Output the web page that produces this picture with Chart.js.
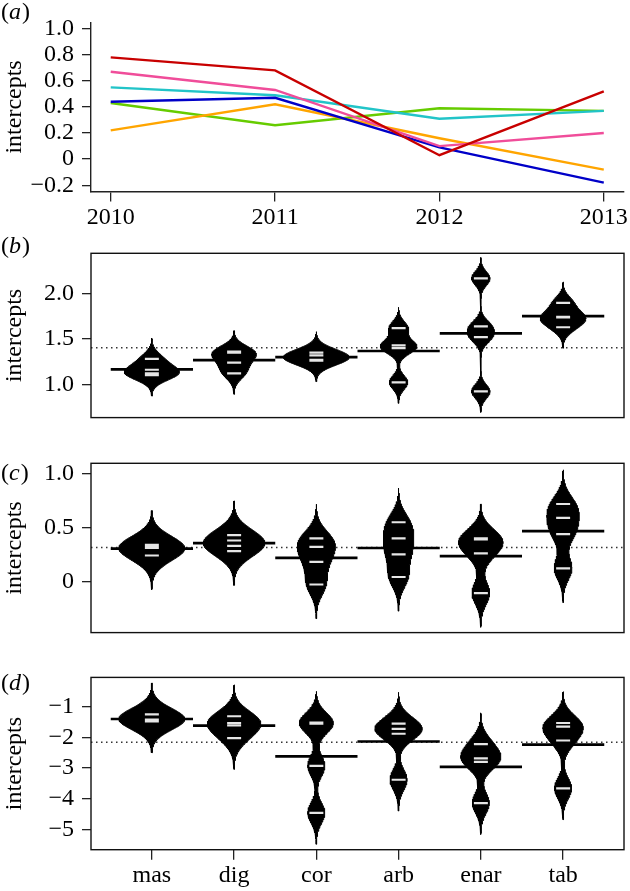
<!DOCTYPE html>
<html>
<head>
<meta charset="utf-8">
<script src="https://cdn.jsdelivr.net/npm/chart.js@4.4.1/dist/chart.umd.min.js"></script>
<style>
  body { margin: 0; background: #fff; }
  .panel { position: absolute; left: 0; }
</style>
</head>
<body>
<canvas class="panel" id="chartA" width="630" height="230" style="top:0px"></canvas>
<canvas class="panel" id="chartB" width="630" height="210" style="top:230px"></canvas>
<canvas class="panel" id="chartC" width="630" height="215" style="top:440px"></canvas>
<canvas class="panel" id="chartD" width="630" height="236" style="top:655px"></canvas>
<script>
// ---- data ----
const years = [2010, 2011, 2012, 2013];
const redA    = [0.78, 0.68, 0.03, 0.52];
const pinkA   = [0.67, 0.53, 0.10, 0.20];
const blueA   = [0.44, 0.47, 0.09, -0.18];
const orangeA = [0.22, 0.42, 0.16, -0.08];
const cyanA   = [0.55, 0.49, 0.31, 0.37];
const greenA  = [0.43, 0.26, 0.39, 0.37];
const yTicksA = [-0.2, 0, 0.2, 0.4, 0.6, 0.8, 1.0];
const yLabelsA = ['\u22120.2', '0', '0.2', '0.4', '0.6', '0.8', '1.0'];

const species = ['mas', 'dig', 'cor', 'arb', 'enar', 'tab'];

// one inner list per species, four yearly intercepts each
const beansB = [
  [1.28, 1.16, 1.12, 1.10],
  [1.36, 1.35, 1.24, 1.12],
  [1.35, 1.32, 1.27, 1.26],
  [1.62, 1.43, 1.40, 1.02],
  [2.17, 1.64, 1.52, 0.92],
  [1.90, 1.745, 1.74, 1.63]
];
const yTicksB = [1.0, 1.5, 2.0];
const yLabelsB = ['1.0', '1.5', '2.0'];

const beansC = [
  [0.34, 0.33, 0.31, 0.24],
  [0.43, 0.38, 0.33, 0.28],
  [0.40, 0.32, 0.18, -0.03],
  [0.55, 0.40, 0.25, 0.04],
  [0.40, 0.39, 0.26, -0.11],
  [0.72, 0.59, 0.44, 0.12]
];
const yTicksC = [0, 0.5, 1.0];
const yLabelsC = ['0', '0.5', '1.0'];

const beansD = [
  [-1.25, -1.42, -1.45, -1.48],
  [-1.31, -1.53, -1.61, -2.02],
  [-1.52, -1.55, -2.93, -4.46],
  [-1.55, -1.72, -1.88, -3.38],
  [-2.22, -2.68, -2.80, -4.14],
  [-1.53, -1.65, -2.10, -3.66]
];
const yTicksD = [-5, -4, -3, -2, -1];
const yLabelsD = ['\u22125', '\u22124', '\u22123', '\u22122', '\u22121'];

// bean kernel bandwidths (one per panel)
const bwB = 0.077, bwC = 0.106, bwD = 0.34;

// ---- defaults ----
const SERIF = '"Liberation Serif", "Times New Roman", serif';
Chart.defaults.font.family = SERIF;
Chart.defaults.font.size = 24;
Chart.defaults.color = '#000';
Chart.defaults.animation = false;

// box round the plot area (panels b-d)
const boxPlugin = {
  id: 'box',
  afterDatasetsDraw(chart, args, opts) {
    if (!opts.show) return;
    const { ctx, chartArea: { left, top, right, bottom } } = chart;
    ctx.save();
    ctx.strokeStyle = '#111';
    ctx.lineWidth = 1.4;
    ctx.strokeRect(left, top, right - left, bottom - top);
    ctx.restore();
  }
};

// "(a)" style tag, italic letter
const tagPlugin = {
  id: 'tag',
  afterDraw(chart, args, opts) {
    const ctx = chart.ctx;
    ctx.save();
    ctx.fillStyle = '#000';
    ctx.textBaseline = 'middle';
    ctx.textAlign = 'left';
    let x = 1;
    ctx.font = '24px ' + SERIF;
    ctx.fillText('(', x, opts.y);
    x += ctx.measureText('(').width;
    ctx.font = 'italic 24px ' + SERIF;
    ctx.fillText(opts.letter, x, opts.y);
    x += ctx.measureText(opts.letter).width + 1;
    ctx.font = '24px ' + SERIF;
    ctx.fillText(')', x, opts.y);
    ctx.restore();
  }
};

function yAxis(min, max, ticks, labels, border) {
  return {
    type: 'linear', position: 'left', min, max,
    afterBuildTicks: s => { s.ticks = ticks.map(v => ({ value: v })); },
    afterFit: s => { s.width = 91; },
    ticks: { callback: (v, i) => labels[i], padding: 8, autoSkip: false, font: { size: 24 } },
    grid: { display: true, drawOnChartArea: false, drawTicks: true, tickLength: 9, color: '#222', lineWidth: 1.3 },
    border: { display: border, color: '#222', width: 1.4 },
    title: { display: true, text: 'intercepts', padding: { top: 0, bottom: 0 }, font: { size: 24 } }
  };
}

// ---- panel (a): lines ----
const lineSeries = [
  { values: redA, color: '#c80000' },
  { values: pinkA, color: '#f04d9a' },
  { values: blueA, color: '#0000c8' },
  { values: orangeA, color: '#ffa500' },
  { values: cyanA, color: '#22c4c8' },
  { values: greenA, color: '#66cc00' }
];

new Chart(document.getElementById('chartA'), {
  type: 'scatter',
  data: {
    datasets: lineSeries.map(s => ({
      data: years.map((yr, i) => ({ x: yr, y: s.values[i] })),
      showLine: true,
      borderColor: s.color,
      backgroundColor: s.color,
      borderWidth: 2.4,
      pointRadius: 0
    }))
  },
  options: {
    responsive: false,
    devicePixelRatio: 1,
    events: [],
    layout: { padding: { top: 17.5, right: 6, left: 0, bottom: 0 } },
    scales: {
      x: {
        type: 'linear', min: 2009.88, max: 2013.12,
        afterBuildTicks: s => { s.ticks = years.map(v => ({ value: v })); },
        afterFit: s => { s.height = 38.5; },
        ticks: { callback: v => String(v), padding: 2, maxRotation: 0, autoSkip: false },
        grid: { display: true, drawOnChartArea: false, drawTicks: true, tickLength: 10, color: '#222', lineWidth: 1.3 },
        border: { display: true, color: '#222', width: 1.4 }
      },
      y: yAxis(-0.248, 1.048, yTicksA, yLabelsA, true)
    },
    plugins: { legend: { display: false }, tooltip: { enabled: false }, tag: { letter: 'a', y: 13 }, box: { show: false } }
  },
  plugins: [boxPlugin, tagPlugin]
});

// ---- panels (b)-(d): beanplots ----
function kde(vals, bw, y) {
  let s = 0;
  vals.forEach(v => { const z = (y - v) / bw; s += Math.exp(-0.5 * z * z); });
  return s / (vals.length * bw * Math.sqrt(2 * Math.PI));
}

function beanDatasets(groups, bw) {
  // density of each bean, cut 3 bandwidths beyond the data
  const grids = groups.map(vals => {
    const lo = Math.min(...vals) - 3 * bw, hi = Math.max(...vals) + 3 * bw;
    const pts = [];
    for (let k = 0; k <= 200; k++) {
      const y = lo + (hi - lo) * k / 200;
      pts.push([y, kde(vals, bw, y)]);
    }
    return pts;
  });
  // widest bean gets width 0.8
  const dmax = Math.max(...grids.flat().map(p => p[1]));
  const half = 0.4 / dmax;

  const beans = grids.map((pts, i) => {
    const c = i + 1;
    const right = pts.map(([y, d]) => ({ x: c + d * half, y }));
    const left = pts.slice().reverse().map(([y, d]) => ({ x: c - d * half, y }));
    return {
      data: right.concat(left), showLine: true, fill: 'shape',
      backgroundColor: '#000', borderColor: '#000', borderWidth: 1, pointRadius: 0, order: 2
    };
  });

  const meanPts = [], dataPts = [];
  const all = groups.flat();
  groups.forEach((vals, i) => {
    const c = i + 1;
    const m = vals.reduce((a, b) => a + b, 0) / vals.length;
    meanPts.push({ x: c - 0.5, y: m }, { x: c + 0.5, y: m }, { x: c, y: null });
    vals.forEach(v => dataPts.push({ x: c - 0.085, y: v }, { x: c + 0.085, y: v }, { x: c, y: null }));
  });
  const overall = all.reduce((a, b) => a + b, 0) / all.length;

  return [
    { data: dataPts, showLine: true, borderColor: '#e6e6e6', borderWidth: 2.2, pointRadius: 0, spanGaps: false, order: 0 },
    { data: meanPts, showLine: true, borderColor: '#000', borderWidth: 2.7, pointRadius: 0, spanGaps: false, order: 1 },
    ...beans,
    { data: [{ x: 0.26, y: overall }, { x: 6.74, y: overall }], showLine: true, borderColor: '#333',
      borderWidth: 1.5, borderDash: [1.5, 3.5], pointRadius: 0, order: 3 }
  ];
}

function beanChart(id, groups, bw, yMin, yMax, ticks, labels, letter, tagY, padTop, padBottom, showX) {
  const x = showX ? {
    type: 'linear', min: 0.26, max: 6.74,
    afterBuildTicks: s => { s.ticks = species.map((n, i) => ({ value: i + 1 })); },
    afterFit: s => { s.height = padBottom; },
    ticks: { callback: (v, i) => species[i], padding: 2, maxRotation: 0, autoSkip: false },
    grid: { display: true, drawOnChartArea: false, drawTicks: true, tickLength: 10, color: '#222', lineWidth: 1.3 },
    border: { display: false }
  } : { type: 'linear', min: 0.26, max: 6.74, display: false };

  new Chart(document.getElementById(id), {
    type: 'scatter',
    data: { datasets: beanDatasets(groups, bw) },
    options: {
      responsive: false,
      devicePixelRatio: 1,
      events: [],
      layout: { padding: { top: padTop, right: 6, left: 0, bottom: showX ? 0 : padBottom } },
      scales: { x, y: yAxis(yMin, yMax, ticks, labels, false) },
      plugins: { legend: { display: false }, tooltip: { enabled: false }, tag: { letter, y: tagY }, box: { show: true } }
    },
    plugins: [boxPlugin, tagPlugin]
  });
}

beanChart('chartB', beansB, bwB, 0.631, 2.448, yTicksB, yLabelsB, 'b', 17, 23.3, 12.3, false);
beanChart('chartC', beansC, bwC, -0.478, 1.099, yTicksC, yLabelsC, 'c', 34, 23.3, 16, false);
beanChart('chartD', beansD, bwD, -5.658, -0.045, yTicksD, yLabelsD, 'd', 29, 20.7, 41.3, true);
</script>
</body>
</html>
